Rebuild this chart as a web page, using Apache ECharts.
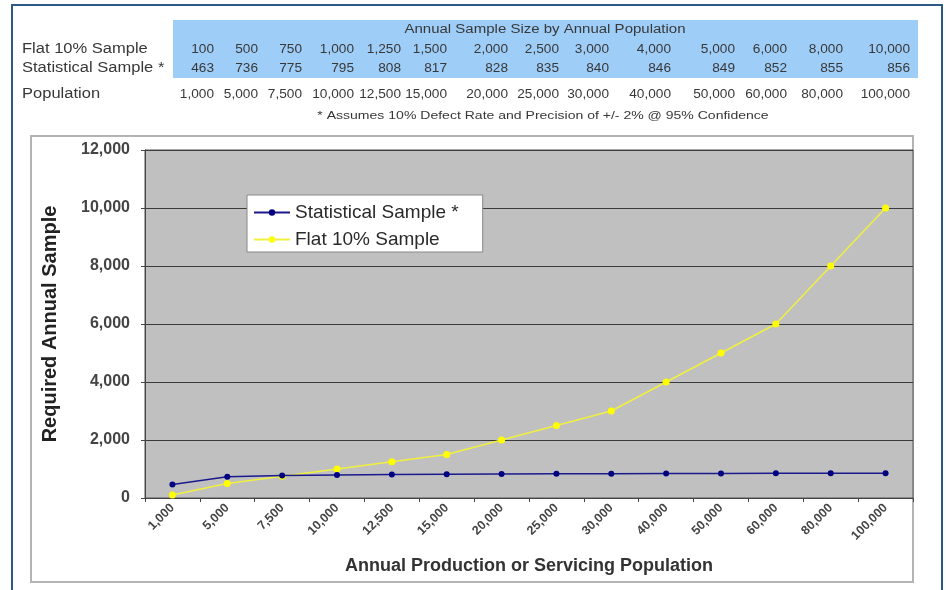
<!DOCTYPE html>
<html>
<head>
<meta charset="utf-8">
<script src="https://cdn.jsdelivr.net/npm/echarts@6/dist/echarts.min.js"></script>
<style>
  html, body { margin: 0; padding: 0; background: #fff; }
  #chart { width: 946px; height: 590px; }
</style>
</head>
<body>
<div id="chart"></div>
<script>
// Annual population served and the corresponding required samples
const population = [1000, 5000, 7500, 10000, 12500, 15000, 20000, 25000, 30000, 40000, 50000, 60000, 80000, 100000];
const flatSample = [100, 500, 750, 1000, 1250, 1500, 2000, 2500, 3000, 4000, 5000, 6000, 8000, 10000];
const statisticalSample = [463, 736, 775, 795, 808, 817, 828, 835, 840, 846, 849, 852, 855, 856];
const yTicks = [0, 2000, 4000, 6000, 8000, 10000, 12000];

const tableTitle = 'Annual Sample Size by Annual Population';
const footnote = '* Assumes 10% Defect Rate and Precision of +/- 2% @ 95% Confidence';
const rowLabels = ['Flat 10% Sample', 'Statistical Sample *', 'Population'];

// Layout of the summary table above the chart
const FONT = '"Liberation Sans", Arial, Helvetica, sans-serif';
const colRight = [214, 258, 302, 354, 401, 447, 508, 559, 609, 671, 735, 787, 843, 910];
const rowY = [49, 68, 94];
const fmt = v => v.toLocaleString('en-US');

// text element anchored at (x, y), optionally widened horizontally
function label(x, y, text, size, align, stretch) {
  return {
    type: 'text', silent: true, x: x, y: y, scaleX: stretch || 1,
    style: { x: 0, y: 0, text: text, textAlign: align, textVerticalAlign: 'middle',
             font: size + 'px ' + FONT, fill: '#383838' }
  };
}

const graphics = [];
// outer frame
graphics.push({
  type: 'rect', z: -10, silent: true,
  shape: { x: 12, y: 5, width: 930, height: 600 },
  style: { fill: '#fff', stroke: '#2b5a86', lineWidth: 2 }
});
// chart panel
graphics.push({
  type: 'rect', z: -9, silent: true,
  shape: { x: 31, y: 136, width: 882, height: 446 },
  style: { fill: '#fff', stroke: '#b4b4b4', lineWidth: 2 }
});
// blue header band
graphics.push({
  type: 'rect', z: -8, silent: true,
  shape: { x: 173, y: 20, width: 745, height: 58 },
  style: { fill: '#9ecdf8' }
});
graphics.push(label(545, 30, tableTitle, 12.5, 'center', 1.2));
rowLabels.forEach((lab, r) => graphics.push(label(22, rowY[r], lab, 14, 'left', 1.18)));
[flatSample, statisticalSample, population].forEach((vals, r) => {
  vals.forEach((v, i) => graphics.push(label(colRight[i], rowY[r], fmt(v), 13, 'right', 1.05)));
});
graphics.push(label(543, 116, footnote, 11.5, 'center', 1.22));

const chart = echarts.init(document.getElementById('chart'), null, { renderer: 'canvas' });
chart.setOption({
  animation: false,
  textStyle: { fontFamily: FONT },
  graphic: graphics,
  grid: {
    left: 145, top: 150, right: 33, bottom: 92,
    show: true, backgroundColor: '#c0c0c0', borderColor: '#555', borderWidth: 1
  },
  legend: {
    orient: 'vertical',
    left: 247, top: 195,
    padding: [8, 24, 3, 6],
    itemGap: 8,
    itemWidth: 36, itemHeight: 8,
    backgroundColor: '#fff',
    borderColor: '#888', borderWidth: 1,
    textStyle: { fontSize: 19, color: '#2a2a2a', fontFamily: FONT },
    data: ['Statistical Sample *', 'Flat 10% Sample']
  },
  xAxis: {
    type: 'category',
    data: population.map(fmt),
    boundaryGap: true,
    name: 'Annual Production or Servicing Population',
    nameLocation: 'middle',
    nameGap: 59,
    nameTextStyle: { fontSize: 18, fontWeight: 'bold', color: '#333', fontFamily: FONT },
    axisLine: { lineStyle: { color: '#444', width: 1 } },
    axisTick: { show: true, length: 4, lineStyle: { color: '#444' } },
    axisLabel: { rotate: 45, margin: 8, fontSize: 12.5, fontWeight: 'bold', color: '#444', interval: 0, fontFamily: FONT },
    splitLine: { show: false }
  },
  yAxis: {
    type: 'value',
    min: yTicks[0], max: yTicks[yTicks.length - 1], interval: 2000,
    name: 'Required Annual Sample',
    nameLocation: 'middle',
    nameGap: 85,
    nameTextStyle: { fontSize: 20, fontWeight: 'bold', color: '#222', fontFamily: FONT },
    axisLine: { show: true, lineStyle: { color: '#444', width: 1 } },
    axisTick: { show: true, length: 4, lineStyle: { color: '#444' } },
    axisLabel: { fontSize: 16, fontWeight: 'bold', color: '#444', margin: 15, formatter: v => fmt(v), fontFamily: FONT },
    splitLine: { show: true, lineStyle: { color: '#3a3a3a', width: 1 } }
  },
  series: [
    {
      name: 'Statistical Sample *',
      type: 'line',
      data: statisticalSample,
      symbol: 'circle', symbolSize: 6,
      lineStyle: { color: '#1a1a8c', width: 1.5 },
      itemStyle: { color: '#000080' },
      z: 3
    },
    {
      name: 'Flat 10% Sample',
      type: 'line',
      data: flatSample,
      symbol: 'circle', symbolSize: 7,
      lineStyle: { color: '#f0f040', width: 1.5 },
      itemStyle: { color: '#ffff00' },
      z: 2
    }
  ]
});
</script>
</body>
</html>
